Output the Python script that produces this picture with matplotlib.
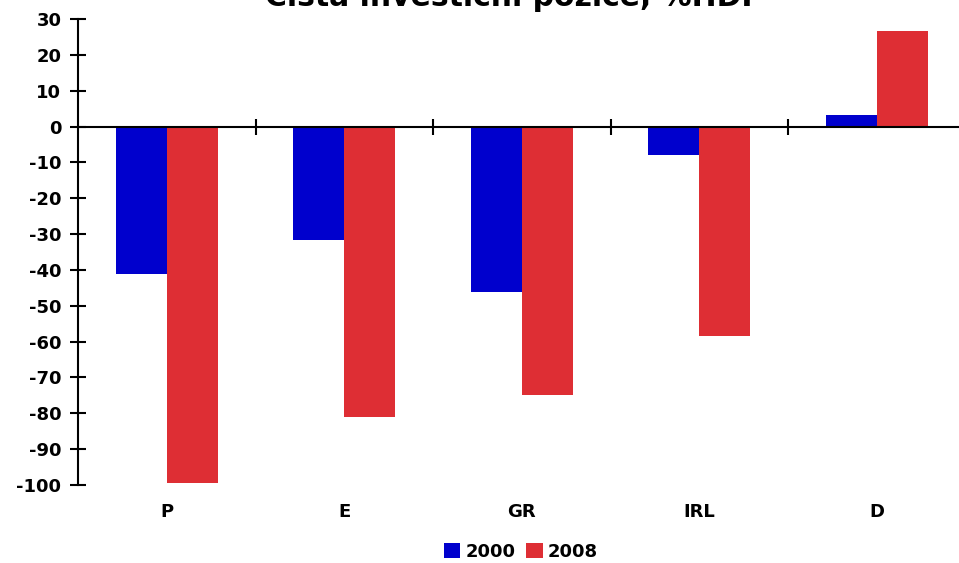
import matplotlib
matplotlib.use("Agg")
import matplotlib.pyplot as plt
import numpy as np
from matplotlib.patches import Patch

categories = ["P", "E", "GR", "IRL", "D"]
values_2000 = [-41.0, -31.7, -46.2, -8.0, 3.2]
values_2008 = [-99.5, -80.9, -74.8, -58.3, 26.6]
series_labels = ["2000", "2008"]
yticks = list(range(-100, 31, 10))
title = "Čistá investiční pozice, %HDP"

c2000 = "#0000CD"
c2008 = "#DE2E34"

plt.rcParams['font.family'] = ['DejaVu Sans']
plt.rcParams['font.weight'] = 'bold'

fig = plt.figure(figsize=(9.59, 5.63), dpi=100)
ax = fig.add_axes([78/959, 1-485/563, (965.5-78)/959, (485-19)/563])

x = np.arange(len(categories))
w = 0.287
ax.bar(x - w/2, values_2000, width=w, color=c2000, linewidth=0)
ax.bar(x + w/2, values_2008, width=w, color=c2008, linewidth=0)

ax.set_xlim(-0.5, len(categories) - 0.5)
ax.set_ylim(-100, 30)
ax.set_yticks(yticks)
ax.set_yticklabels([str(v) for v in yticks], fontsize=13, fontweight='bold')

for s in ['top', 'right']:
    ax.spines[s].set_visible(False)
ax.spines['bottom'].set_position(('data', 0))
ax.spines['bottom'].set_linewidth(1.5)
ax.spines['left'].set_linewidth(1.5)
ax.spines['bottom'].set_zorder(5)

ax.set_xticks(np.arange(0.5, len(categories) - 0.5, 1.0))
ax.set_xticklabels([])
ax.tick_params(axis='x', direction='inout', length=12, width=1.5)
ax.tick_params(axis='y', direction='inout', length=12, width=1.5, pad=6)

trans = ax.get_xaxis_transform()
for i, c in enumerate(categories):
    ax.text(i, -27/466, c, transform=trans, ha='center', va='center',
            fontsize=13, fontweight='bold')

fig.text(514/959, 1-6/563, title, ha='center', va='baseline',
         fontsize=21.5, fontweight='bold')

handles = [Patch(facecolor=c2000, edgecolor='none'), Patch(facecolor=c2008, edgecolor='none')]
fig.legend(handles, series_labels, loc='center', bbox_to_anchor=(521/959, 1-552/563),
           ncol=2, frameon=False, prop={'weight': 'bold', 'size': 13},
           handlelength=0.9, handleheight=0.9, handletextpad=0.3, columnspacing=0.6)

fig.savefig("out.png", dpi=100)
